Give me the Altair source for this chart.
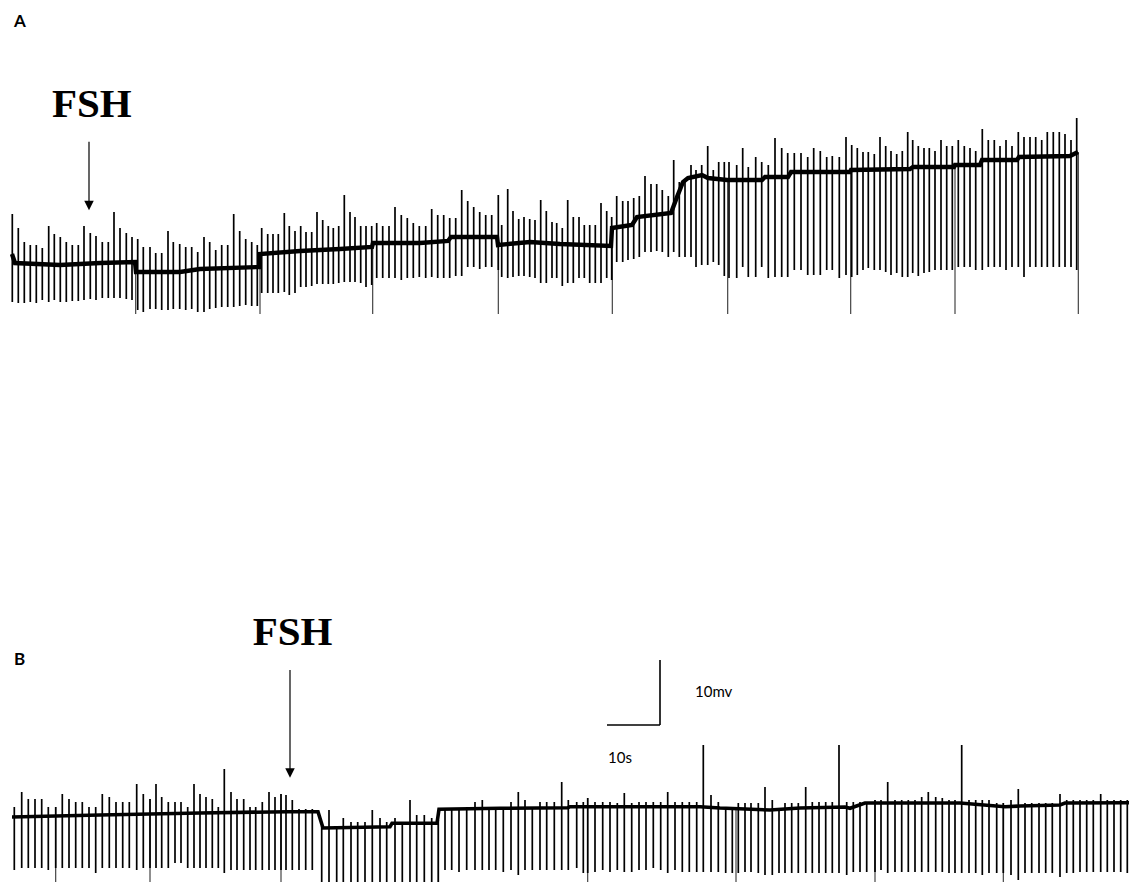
import altair as alt
import pandas as pd

# ---------------- Trace A (time in px-units, potential in px-units) ----------------
A_spike_t = [12.3, 18.3, 24.3, 30.3, 36.3, 42.3, 48.7, 54.3, 60.3, 66.3, 72.3, 78.3, 84, 90.3, 96, 102.3, 108.3, 114, 120, 126.3, 132,
             137.7, 143.3, 150, 155.7, 161.7, 168, 173.3, 179.7, 185.7, 191.7, 197.7, 204, 209.7, 215.7, 221.7, 227.7, 233.7, 239.7, 245.7, 251.7, 257.3,
             261.7, 267.7, 273, 278.3, 284.3, 289.3, 295, 300.7, 306, 311.7, 317, 322.7, 328.3, 333.3, 338.7, 344.3, 350, 355, 360.7, 366, 371.7,
             376.7, 382.7, 389, 395, 401.3, 407.3, 413.3, 419.3, 425.7, 431.7, 437.7, 443.7, 449.7, 455.7, 461.7, 467.7, 473.7, 479.7, 485.7, 491.7, 498.3,
             501.7, 507.7, 513, 518.7, 524, 529.7, 535, 540.7, 546.3, 552, 556.7, 562.3, 567.7, 573.3, 579, 584.3, 589.7, 595.3, 601, 606.7, 611.7,
             616.7, 622.7, 628, 633.7, 639.3, 645, 651, 656.7, 662.3, 668.3, 673.7, 679.3, 685, 691, 696, 701.7, 707.7, 713.3, 718.7, 724.3,
             729, 736.7, 742.7, 748.3, 755.7, 761.7, 768.3, 775, 781.7, 787.7, 794.3, 801, 807.7, 813.7, 820.3, 826.7, 832.3, 839.3, 846,
             851.7, 857.3, 863, 868.3, 874.3, 880, 885.7, 891, 896.7, 902.3, 907.7, 912.7, 918.3, 924, 929.3, 935, 941, 946.7, 952.3,
             958.3, 964.3, 970, 975.7, 982.3, 988.3, 994.3, 1000, 1006, 1012, 1018.3, 1024, 1030, 1035.7, 1041.7, 1047.3, 1053.3, 1059.3, 1065, 1071, 1076.7]
A_spike_top = [214, 228, 242, 245, 245, 248, 226, 234, 237, 242, 245, 245, 226, 233, 236, 242, 242, 212, 228, 233, 237,
               239, 247, 247, 253, 253, 231, 242, 244, 247, 247, 252, 237, 242, 250, 245, 245, 214, 231, 239, 242, 245,
               228, 234, 234, 234, 213, 226, 231, 226, 232, 232, 212, 220, 226, 228, 226, 195, 212, 217, 226, 226, 226,
               223, 226, 226, 207, 215, 218, 223, 226, 226, 209, 215, 215, 218, 218, 190, 201, 207, 212, 215, 215, 195,
               225, 189, 211, 219, 217, 219, 220, 200, 211, 222, 223, 228, 200, 217, 217, 225, 225, 225, 203, 211, 217,
               196, 201, 201, 198, 196, 176, 184, 184, 190, 196, 160, 182, 182, 165, 170, 165, 146, 170, 162, 162,
               162, 165, 148, 167, 157, 162, 165, 138, 148, 153, 153, 153, 157, 148, 151, 157, 156, 157, 137,
               145, 148, 152, 152, 154, 137, 146, 151, 154, 151, 132, 140, 146, 148, 148, 151, 140, 146, 146,
               140, 146, 148, 151, 129, 140, 140, 146, 140, 146, 132, 137, 137, 137, 140, 132, 132, 132, 134, 140, 118]
A_spike_bot = [302, 303, 303, 302, 303, 300, 302, 300, 302, 302, 301, 301, 300, 299, 300, 298, 298, 298, 298, 299, 300,
               310, 312, 309, 309, 310, 310, 309, 309, 310, 309, 312, 312, 309, 308, 307, 307, 307, 306, 305, 306, 306,
               293, 293, 293, 293, 292, 295, 293, 287, 287, 286, 284, 284, 284, 284, 283, 282, 282, 282, 283, 287, 285,
               278, 278, 278, 278, 280, 278, 278, 277, 278, 277, 278, 278, 278, 276, 276, 267, 267, 269, 267, 267, 270,
               277, 278, 277, 276, 276, 277, 278, 283, 283, 278, 278, 286, 283, 283, 278, 278, 283, 283, 283, 278, 280,
               262, 262, 260, 259, 257, 252, 252, 251, 252, 257, 252, 257, 257, 257, 267, 265, 265, 262, 265, 276,
               278, 278, 267, 277, 277, 267, 278, 277, 277, 277, 270, 270, 275, 275, 275, 270, 270, 278, 275,
               277, 275, 270, 268, 270, 270, 272, 275, 273, 277, 277, 273, 276, 273, 272, 270, 270, 270, 270,
               267, 267, 267, 270, 270, 267, 267, 267, 270, 267, 267, 277, 267, 267, 267, 267, 267, 267, 267, 267, 270]
A_base_t = [12, 15, 60, 100, 135, 136, 180, 200, 259, 260, 300, 340, 372, 373, 420, 448, 451, 497, 498, 530, 560, 611,
            612, 632, 637, 671, 677, 683, 688, 702, 708, 727, 762, 765, 788, 791, 850, 851, 910, 913, 954,
            955, 980, 982, 1017, 1019, 1070, 1078]
A_base_v = [254, 263, 265, 263, 262, 272, 272, 269, 267, 254, 251, 249, 247, 243, 243, 241, 237, 237, 245, 242, 244, 246,
            228, 225, 217, 213, 197, 182, 178, 175, 178, 180, 180, 177, 177, 172, 172, 170, 169, 167, 167,
            165, 165, 160, 160, 157, 156, 152]
A_sep_t = [135.7, 260, 372.7, 498.3, 612.3, 727.7, 850.7, 955, 1078.3]
A_sep_v = [262, 267, 247, 237, 246, 180, 172, 167, 152]
A_sep_end = 314

# ---------------- Trace B ----------------
B_spike_t = [14.3, 21.7, 28.3, 35, 41.7, 48.3, 55.7, 62.3, 69, 75.7, 82.3, 89, 95.7, 102.3, 109.3, 116, 122.7, 129.3, 136.7, 143.3,
             150, 156, 161.7, 168.3, 175, 181, 187.7, 194, 200, 206, 212.3, 218.3, 224.3, 231, 237, 243.7, 250, 255.7, 262.3, 269, 275,
             281, 286, 292.3, 299, 305.7, 312.3, 321.7, 329, 336.7, 343.3, 351, 357.7, 365, 372.3, 380, 386.7, 395, 402.3, 410, 416.7,
             424.3, 431.7, 438.3, 445, 451.7, 459, 466.7, 475, 482.3, 489, 495.7, 503.3, 511, 518.3, 525, 532.3, 540, 546.7, 554.3,
             561.7, 568.3, 576.7, 583.3, 587.7, 595, 602.7, 610, 617.3, 624.3, 631.7, 639, 646, 653.3, 660.7, 667.7, 675, 682.3, 689.3,
             696.7, 703.3, 711, 718.3, 725.7, 732.3, 738.3, 745, 751, 758.3, 765, 772.3, 779, 785, 791.7, 798.3, 805.7, 812.3, 819,
             825.7, 832.3, 839, 846.7, 853.3, 860, 866.7, 875, 881, 887.7, 895, 901.7, 908.3, 915, 921.7, 928.3, 935.7, 942.3, 949,
             955, 961.7, 969, 975.7, 982.3, 989, 996.7, 1003.3, 1011, 1018.3, 1025, 1031.7, 1039, 1045.7, 1052.3, 1060, 1066.7,
             1073.3, 1080, 1086.7, 1093.3, 1100.7, 1107.3, 1114, 1120.7, 1127.3, 1133.3]
B_spike_top = [807, 792, 799, 799, 799, 807, 807, 794, 799, 802, 802, 807, 807, 794, 797, 802, 802, 802, 784, 794,
               799, 784, 797, 802, 802, 802, 807, 784, 794, 797, 799, 807, 769, 792, 799, 799, 807, 807, 802, 792, 797,
               794, 795, 800, 809, 809, 809, 826, 810, 826, 818, 822, 822, 822, 810, 818, 822, 818, 822, 800, 815,
               815, 818, 820, 810, 810, 810, 810, 802, 800, 809, 809, 809, 802, 792, 800, 807, 802, 802, 802,
               782, 800, 802, 802, 798, 802, 802, 802, 803, 793, 803, 802, 802, 802, 802, 792, 802, 802, 802,
               802, 745, 795, 802, 807, 807, 803, 803, 803, 803, 787, 800, 810, 803, 803, 803, 787, 802, 802,
               802, 802, 745, 802, 802, 802, 802, 800, 800, 782, 800, 800, 800, 800, 797, 792, 797, 798, 800,
               800, 745, 800, 800, 800, 800, 803, 803, 800, 789, 803, 803, 803, 803, 803, 794, 800,
               800, 800, 800, 800, 794, 800, 800, 800, 800, 799]
B_spike_bot = [870, 868, 868, 868, 868, 870, 868, 868, 868, 868, 868, 868, 873, 868, 868, 868, 868, 868, 870, 868,
               868, 868, 868, 868, 863, 863, 868, 868, 868, 868, 868, 868, 873, 870, 870, 870, 870, 870, 870, 870, 870,
               870, 870, 870, 870, 870, 870, 887, 885, 887, 888, 887, 887, 888, 887, 887, 887, 883, 885, 888, 883,
               885, 883, 883, 870, 870, 872, 870, 870, 870, 870, 870, 872, 870, 875, 870, 870, 870, 870, 870,
               870, 870, 868, 873, 873, 872, 870, 872, 870, 872, 872, 870, 870, 868, 870, 873, 870, 872, 872,
               872, 872, 872, 872, 873, 873, 873, 872, 872, 873, 875, 875, 873, 873, 873, 873, 873, 873, 873,
               873, 873, 873, 875, 872, 872, 872, 872, 870, 873, 872, 872, 872, 872, 872, 872, 872, 872, 873,
               873, 873, 873, 873, 875, 873, 873, 873, 875, 880, 873, 873, 873, 873, 873, 877, 873,
               873, 872, 872, 872, 872, 872, 872, 872, 873, 872]
B_base_t = [12, 100, 200, 288, 318, 323, 390, 392, 437, 439, 500, 568, 570, 700, 720, 770, 800, 845, 850, 865, 960,
            1005, 1020, 1060, 1065, 1137]
B_base_v = [817, 815, 813, 811.7, 811.7, 828, 826.7, 823.3, 823.3, 809.3, 808.3, 807.7, 806.7, 806.7, 808, 810, 808, 807,
            808.3, 803, 803, 806.7, 806, 805, 803, 802.7]
B_sep_t = [55.7, 150, 281, 438.3, 587.7, 736, 875, 1003.3]
B_sep_v = [807, 799, 794, 820, 798, 807, 800, 803]
B_sep_end = 890

# ---------------- Annotations ----------------
panel_labels = ["A", "B"]
panel_label_t = [14, 14]
panel_label_v = [22, 660]
fsh_labels = ["FSH", "FSH"]
fsh_t = [52, 252.7]
fsh_v = [117, 645]
arrow_t = [89, 290]
arrow_start = [141.7, 670]
arrow_end = [203, 770]
arrow_head = [205.5, 773]
scale_texts = ["10mv", "10s"]
scale_text_t = [695, 608]
scale_text_v = [692, 758]
scalebar_v_t = [660]
scalebar_v = [660]
scalebar_v2 = [725]
scalebar_h_t = [607]
scalebar_h_t2 = [660]
scalebar_h_v = [725]

# ---------------- Build tables ----------------
X = lambda f: alt.X(f, type="quantitative", scale=alt.Scale(domain=[8, 1129], nice=False, zero=False), axis=None)
Y = lambda f: alt.Y(f, type="quantitative", scale=alt.Scale(domain=[8, 882], nice=False, zero=False, reverse=True), axis=None)

baseA_df = pd.DataFrame({"t": A_base_t, "v": A_base_v})
baseA_df["i"] = range(len(baseA_df))
baseB_df = pd.DataFrame({"t": B_base_t, "v": B_base_v})
baseB_df["i"] = range(len(baseB_df))

spike_df = pd.concat([
    pd.DataFrame({"t": A_spike_t, "top": A_spike_top, "bot": A_spike_bot}),
    pd.DataFrame({"t": B_spike_t, "top": B_spike_top, "bot": B_spike_bot}),
], ignore_index=True)

sep_df = pd.concat([
    pd.DataFrame({"t": A_sep_t, "v": A_sep_v, "end": A_sep_end}),
    pd.DataFrame({"t": B_sep_t, "v": B_sep_v, "end": B_sep_end}),
], ignore_index=True)

baselineA = alt.Chart(baseA_df).mark_line(color="black", strokeWidth=4.4, strokeJoin="miter").encode(
    x=X("t"), y=Y("v"), order="i:Q")
baselineB = alt.Chart(baseB_df).mark_line(color="black", strokeWidth=3.6, strokeJoin="miter").encode(
    x=X("t"), y=Y("v"), order="i:Q")

spikes = alt.Chart(spike_df).mark_rule(color="black", strokeWidth=1.7).encode(
    x=X("t"), y=Y("top"), y2=alt.Y2("bot"))

seps = alt.Chart(sep_df).mark_rule(color="#333333", strokeWidth=1.1).encode(
    x=X("t"), y=Y("v"), y2=alt.Y2("end"))

labels = alt.Chart(pd.DataFrame({"t": panel_label_t, "v": panel_label_v, "s": panel_labels})).mark_text(
    font="Lato", fontWeight="bold", fontSize=17, align="left", baseline="middle", color="black").encode(
    x=X("t"), y=Y("v"), text="s:N")

fsh = alt.Chart(pd.DataFrame({"t": fsh_t, "v": fsh_v, "s": fsh_labels})).mark_text(
    font="Liberation Serif", fontWeight="bold", fontSize=41, align="left", baseline="alphabetic", color="black").encode(
    x=X("t"), y=Y("v"), text="s:N")

arrow_df = pd.DataFrame({"t": arrow_t, "a": arrow_start, "b": arrow_end, "h": arrow_head})
arrow_lines = alt.Chart(arrow_df).mark_rule(color="black", strokeWidth=1.2).encode(
    x=X("t"), y=Y("a"), y2=alt.Y2("b"))
arrow_heads = alt.Chart(arrow_df).mark_point(
    shape="M-1,-1L1,-1L0,1Z", filled=True, size=90, color="black", opacity=1).encode(
    x=X("t"), y=Y("h"))

scale_txt = alt.Chart(pd.DataFrame({"t": scale_text_t, "v": scale_text_v, "s": scale_texts})).mark_text(
    font="Lato", fontSize=15, align="left", baseline="middle", color="black").encode(
    x=X("t"), y=Y("v"), text="s:N")

sb_v = alt.Chart(pd.DataFrame({"t": scalebar_v_t, "a": scalebar_v, "b": scalebar_v2})).mark_rule(
    color="black", strokeWidth=1.6).encode(x=X("t"), y=Y("a"), y2=alt.Y2("b"))
sb_h = alt.Chart(pd.DataFrame({"t": scalebar_h_t, "t2": scalebar_h_t2, "v": scalebar_h_v})).mark_rule(
    color="black", strokeWidth=1.6).encode(x=X("t"), x2=alt.X2("t2"), y=Y("v"))

chart = alt.layer(seps, spikes, baselineA, baselineB, labels, fsh, arrow_lines, arrow_heads, scale_txt, sb_v, sb_h).properties(
    width=1121, height=874, padding=0, autosize=alt.AutoSizeParams(type="none"), background="white"
).configure_view(stroke=None)

chart.save("out.html", embed_options={"renderer": "svg", "actions": False})
